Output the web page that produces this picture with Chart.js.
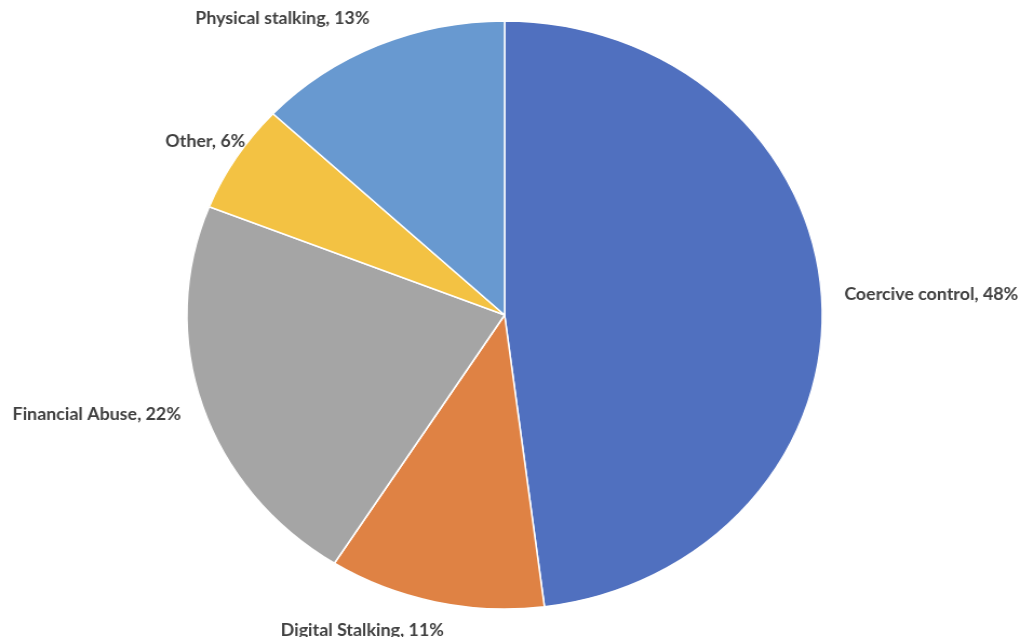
<!DOCTYPE html>
<html>
<head>
<meta charset="utf-8">
<script src="https://cdn.jsdelivr.net/npm/chart.js@4/dist/chart.umd.min.js"></script>
<style>
  html, body { margin: 0; padding: 0; background: #ffffff; overflow: hidden; }
  #wrap { width: 944px; height: 637px; transform: scaleX(1.0805); transform-origin: 0 0; }
</style>
</head>
<body>
<div id="wrap"><canvas id="c"></canvas></div>
<script>
// Abuse types and their share of reports (%)
const categories = ['Coercive control', 'Digital Stalking', 'Financial Abuse', 'Other', 'Physical stalking'];
const shares = [48, 11, 22, 6, 13];
const sliceColors = ['#5070BF', '#DF8244', '#A5A5A5', '#F3C243', '#6899D0'];

// Draws "Category, N%" outside each slice, anchored on the slice's mid-angle
const outsideLabels = {
  id: 'outsideLabels',
  afterDatasetsDraw(chart, args, opts) {
    const ctx = chart.ctx;
    const meta = chart.getDatasetMeta(0);
    ctx.save();
    ctx.font = opts.font;
    ctx.fillStyle = opts.color;
    meta.data.forEach((arc, i) => {
      const { x, y, startAngle, endAngle, outerRadius } = arc.getProps(['x', 'y', 'startAngle', 'endAngle', 'outerRadius'], true);
      const mid = (startAngle + endAngle) / 2;
      const r = outerRadius + opts.gap;
      const cos = Math.cos(mid), sin = Math.sin(mid);
      const nudge = opts.nudge[i] || [0, 0];
      const text = categories[i] + ', ' + shares[i] + '%';
      const w = ctx.measureText(text).width;
      const h = opts.lineHeight;
      let ax = x + r * cos + nudge[0];
      let ay = y + r * sin + sin * h / 2 + nudge[1];
      let left;
      if (Math.abs(cos) < 0.3) left = ax - w / 2;
      else if (cos > 0) left = ax;
      else left = ax - w;
      ctx.textAlign = 'left';
      ctx.textBaseline = 'middle';
      ctx.fillText(text, left, ay);
    });
    ctx.restore();
  }
};

new Chart(document.getElementById('c'), {
  type: 'pie',
  data: {
    labels: categories,
    datasets: [{
      data: shares,
      backgroundColor: sliceColors,
      borderColor: '#ffffff',
      borderWidth: 1.5,
      radius: 294
    }]
  },
  options: {
    responsive: true,
    maintainAspectRatio: false,
    animation: false,
    layout: { padding: { left: 173, right: 183, top: 21, bottom: 28 } },
    plugins: {
      legend: { display: false },
      tooltip: { enabled: false },
      outsideLabels: {
        font: 'bold 16.5px Lato',
        color: '#404040',
        gap: 21,
        lineHeight: 16,
        nudge: [[0, 0], [-63, 0], [0, 0], [26, 0], [0, 0]]
      }
    }
  },
  plugins: [outsideLabels]
});
</script>
</body>
</html>
